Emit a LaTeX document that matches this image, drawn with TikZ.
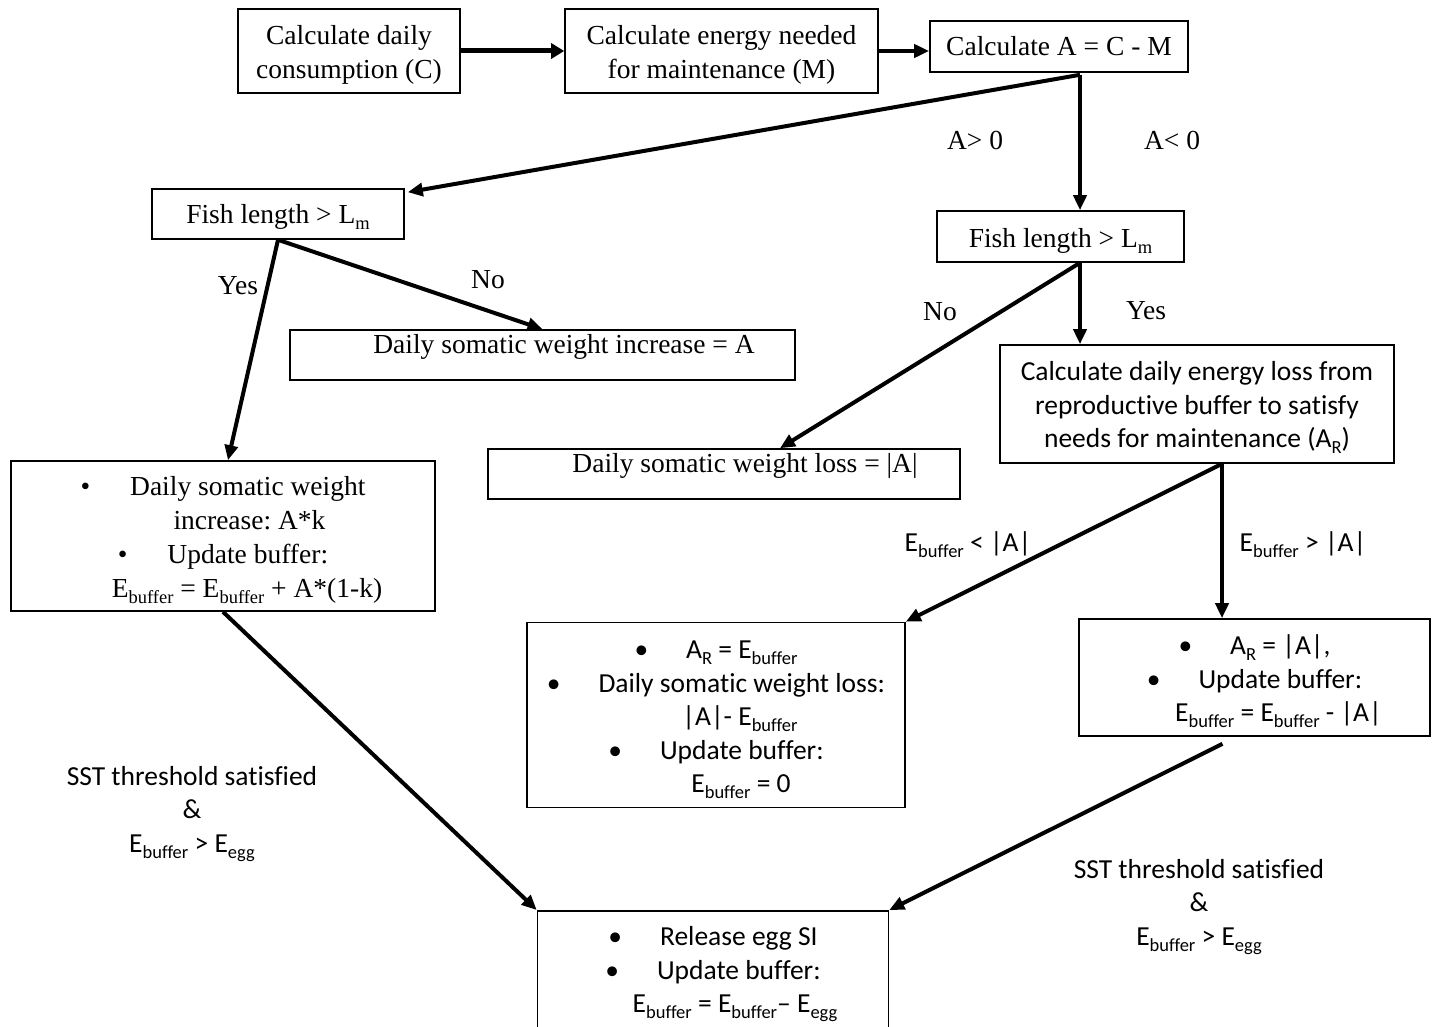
\documentclass[tikz,border=0pt]{standalone}
\usepackage{fontspec}
\setmainfont[Ligatures=NoCommon]{Liberation Serif}
\newfontfamily\calfont[Ligatures=NoCommon]{Carlito}
\usetikzlibrary{arrows.meta,calc}
\newcommand\sbs[1]{\raisebox{-6pt}{\fontsize{18.5}{18.5}\selectfont #1}}
\newcommand\tp[1]{\rule{0pt}{#1}}
\frenchspacing
\begin{document}
\begin{tikzpicture}[x=1pt,y=-1pt,
  box/.style={draw, line width=1.6pt, rectangle, inner sep=0pt, align=center},
  tms/.style={font=\fontsize{27.5}{34}\selectfont},
  cal/.style={font=\calfont\fontsize{27.5}{33.5}\selectfont},
  arr/.style={line width=4pt, -{Triangle[length=15pt,width=13pt]}},
  lab/.style={inner sep=0pt, align=center}]
\clip (0,0) rectangle (1434,1027);
\fill[white] (0,0) rectangle (1434,1027);
% boxes
\node[box,tms,minimum width=222pt,minimum height=84pt] (b1) at (349,51) {\tp{27pt}Calculate daily\\consumption (C)};
\node[box,tms,minimum width=313pt,minimum height=84pt] (b2) at (721.5,51) {\tp{27pt}Calculate energy needed\\for maintenance (M)};
\node[box,tms,minimum width=258pt,minimum height=51pt] (b3) at (1059,46.5) {Calculate A = C - M};
\node[box,tms,minimum width=252pt,minimum height=50pt] (lf) at (278,214) {\tp{24pt}Fish length > L\sbs{m}};
\node[box,tms,minimum width=247pt,minimum height=51pt] (rf) at (1060.5,236.5) {\tp{27pt}Fish length > L\sbs{m}};
\node[box,tms,minimum width=505pt,minimum height=50pt] (inc) at (542.5,355) {\hspace*{43pt}\raisebox{8pt}[\height][\depth]{Daily somatic weight increase = A}};
\node[box,tms,minimum width=424pt,minimum height=150pt] (lb) at (223,536) {\tp{27pt}\textbullet\hspace{40pt}Daily somatic weight\\ \hspace*{53pt}increase: A*k\\ \textbullet\hspace{40pt}Update buffer:\\ \hspace*{48pt}E\sbs{buffer} = E\sbs{buffer} + A*(1-k)};
\node[box,tms,minimum width=472pt,minimum height=50pt] (loss) at (724,474) {\hspace*{42pt}\raisebox{8pt}[\height][\depth]{Daily somatic weight loss = |A|}};
\node[box,cal,minimum width=394pt,minimum height=118pt] (en) at (1197,404) {\tp{26pt}Calculate daily energy loss from\\reproductive buffer to satisfy\\needs for maintenance (A\sbs{R})};
\node[box,cal,minimum width=378pt,minimum height=185pt] (mb) at (716,715) {\tp{28pt}\textbullet\hspace{38pt}A\sbs{R} = E\sbs{buffer}\\ \textbullet\hspace{38pt}Daily somatic weight loss:\\ \hspace*{48pt}|A|- E\sbs{buffer}\\ \textbullet\hspace{38pt}Update buffer:\\ \hspace*{50pt}E\sbs{buffer} = 0};
\node[box,cal,minimum width=351pt,minimum height=117pt] (rb) at (1254.5,677.5) {\tp{28pt}\textbullet\hspace{38pt}A\sbs{R} = |A|,\\ \textbullet\hspace{38pt}Update buffer:\\ \hspace*{48pt}E\sbs{buffer} = E\sbs{buffer} - |A|};
\node[box,cal,minimum width=351pt,minimum height=122pt,anchor=north] (bb) at (713,910) {\tp{24pt}\textbullet\hspace{38pt}Release egg SI\\ \textbullet\hspace{38pt}Update buffer:\\ \hspace*{44pt}E\sbs{buffer} = E\sbs{buffer}– E\sbs{egg}};
% labels
\node[lab,tms] (ap) at (975,140) {A> 0};
\node[lab,tms] (an) at (1172,140) {A< 0};
\node[lab,tms] (y1) at (238,286) {Yes};
\node[lab,tms] (n1) at (488,280) {No};
\node[lab,tms] (n2) at (940,312) {No};
\node[lab,tms] (y2) at (1146,311) {Yes};
\node[lab,cal] (el) at (968,545) {E\sbs{buffer} < |A|};
\node[lab,cal] (eg) at (1303,545) {E\sbs{buffer} > |A|};
\node[lab,cal] (sst1) at (192,814) {SST threshold satisfied\\\&\\E\sbs{buffer} > E\sbs{egg}};
\node[lab,cal] (sst2) at (1199,907) {SST threshold satisfied\\\&\\E\sbs{buffer} > E\sbs{egg}};
% connectors
\draw[line width=5pt, -{Triangle[length=13pt,width=15pt]}] (b1.east) -- (b2.west);
\draw[arr] (b2.east) -- (b2.east -| b3.west);
\coordinate (s1) at ([xshift=21pt,yshift=-2pt]b3.south);
\draw[arr] (s1) -- (s1 |- rf.north);
\draw[arr] (s1) -- ([xshift=3pt,yshift=-4pt]lf.north east);
\draw[arr] (lf.south) -- ([xshift=5pt]lb.north);
\draw[arr] (lf.south) -- (inc.north);
\coordinate (s2) at ([xshift=19.5pt]rf.south);
\draw[arr] (s2) -- (s2 |- en.north);
\draw[arr] (s2) -- ([xshift=56pt]loss.north);
\coordinate (s3) at ([xshift=25pt]en.south);
\draw[arr] (s3) -- (s3 |- rb.north);
\draw[arr] (s3) -- (mb.north east);
\coordinate (s4) at ([xshift=-32pt,yshift=-7pt]rb.south);
\draw[arr] (s4) -- (bb.north east);
\draw[arr] (lb.south) -- (bb.north west);
\end{tikzpicture}
\end{document}
